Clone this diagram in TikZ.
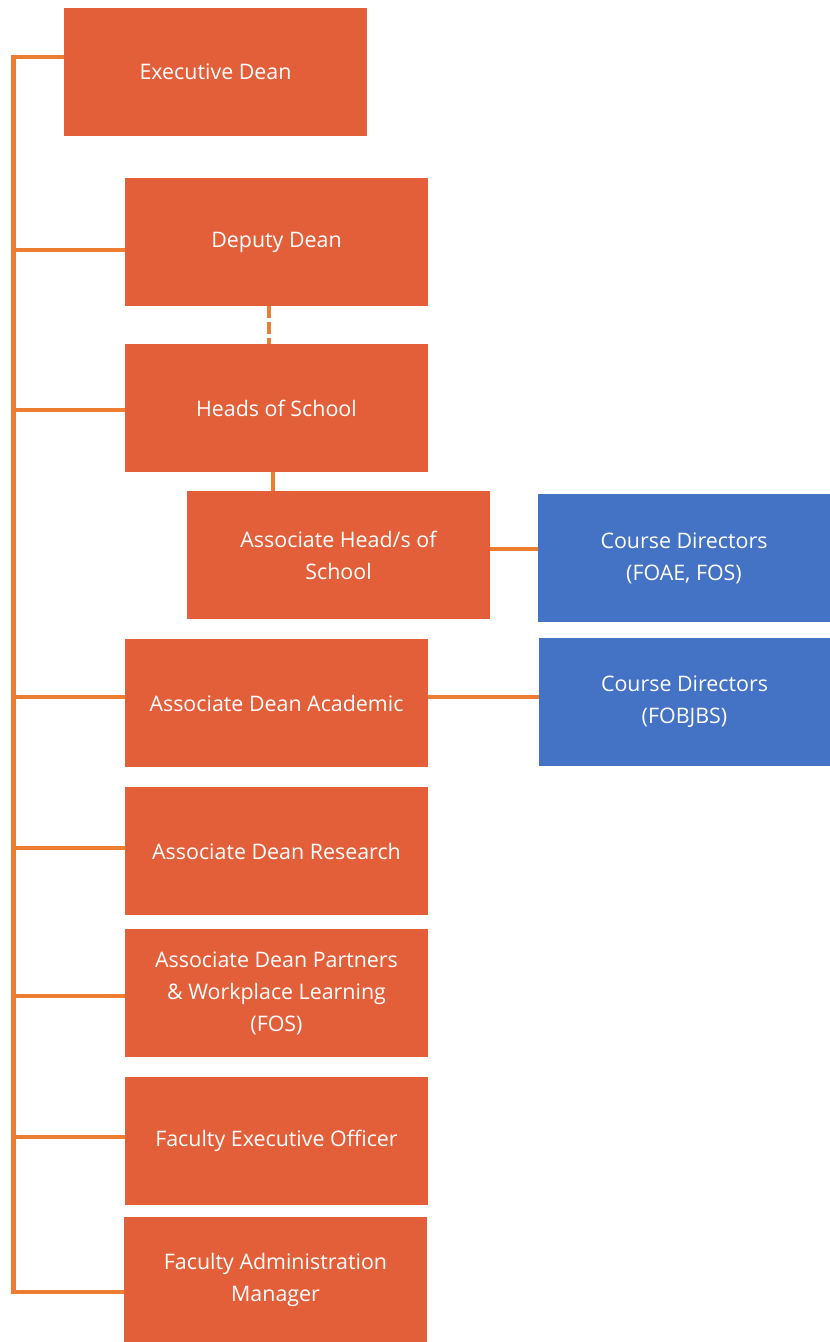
\documentclass[tikz,border=0pt]{standalone}
\usepackage{fontspec}
\setmainfont{Open Sans}
\definecolor{boxred}{HTML}{E35F3A}
\definecolor{boxblue}{HTML}{4472C4}
\definecolor{lineor}{HTML}{ED7D31}
\begin{document}
\begin{tikzpicture}[x=1pt,y=-1pt,
  rolebox/.style={fill=boxred,draw=none,text=white,inner sep=0pt,
    minimum width=303pt,minimum height=128pt,align=center,
    font=\fontsize{21.4}{32}\selectfont},
  dirbox/.style={rolebox,fill=boxblue,minimum width=292pt},
  link/.style={draw=lineor,line width=4.5pt},
  dashlink/.style={link,dash pattern=on 12pt off 4pt}]
\useasboundingbox (0,0) rectangle (830,1342);
\node[rolebox] (exec) at (215.5,72) {Executive Dean};
\node[rolebox] (deputy) at (276.5,242) {Deputy Dean};
\node[rolebox] (heads) at (276.5,408) {Heads of School};
\node[rolebox] (assoc) at (338.5,555) {Associate Head/s of\\School};
\node[dirbox] (cd1) at (684,558) {Course Directors\\(FOAE, FOS)};
\node[rolebox] (acad) at (276.5,703) {Associate Dean Academic};
\node[dirbox,minimum width=291pt] (cd2) at (684.5,702) {Course Directors\\(FOBJBS)};
\node[rolebox] (research) at (276.5,851) {Associate Dean Research};
\node[rolebox] (partners) at (276.5,993) {Associate Dean Partners\\\&\ Workplace Learning\\(FOS)};
\node[rolebox] (feo) at (276.5,1141) {Faculty Executive Officer};
\node[rolebox,minimum height=125pt] (fam) at (275.5,1279.5) {Faculty Administration\\Manager};
\coordinate (s1) at (13.5,57);
\coordinate (s2) at (13.5,250);
\coordinate (s3) at (13.5,410);
\coordinate (s4) at (13.5,697);
\coordinate (s5) at (13.5,848);
\coordinate (s6) at (13.5,996);
\coordinate (s7) at (13.5,1137);
\coordinate (s8) at (13.5,1292);
\draw[link] (s1 -| exec.west) -- (s1) -- (s8) -- (s8 -| fam.west);
\draw[link] (s2) -- (s2 -| deputy.west);
\draw[link] (s3) -- (s3 -| heads.west);
\draw[link] (s4) -- (s4 -| acad.west);
\draw[link] (s5) -- (s5 -| research.west);
\draw[link] (s6) -- (s6 -| partners.west);
\draw[link] (s7) -- (s7 -| feo.west);
\draw[dashlink] ([xshift=-7.5pt]deputy.south) -- ([xshift=-7.5pt]heads.north);
\draw[link] ([xshift=-3.5pt]heads.south) -- ([xshift=-3.5pt]heads.south |- assoc.north);
\draw[link] ([yshift=6pt]assoc.east) -- ([yshift=6pt]assoc.east -| cd1.west);
\draw[link] ([yshift=6pt]acad.east) -- ([yshift=6pt]acad.east -| cd2.west);
\end{tikzpicture}
\end{document}
